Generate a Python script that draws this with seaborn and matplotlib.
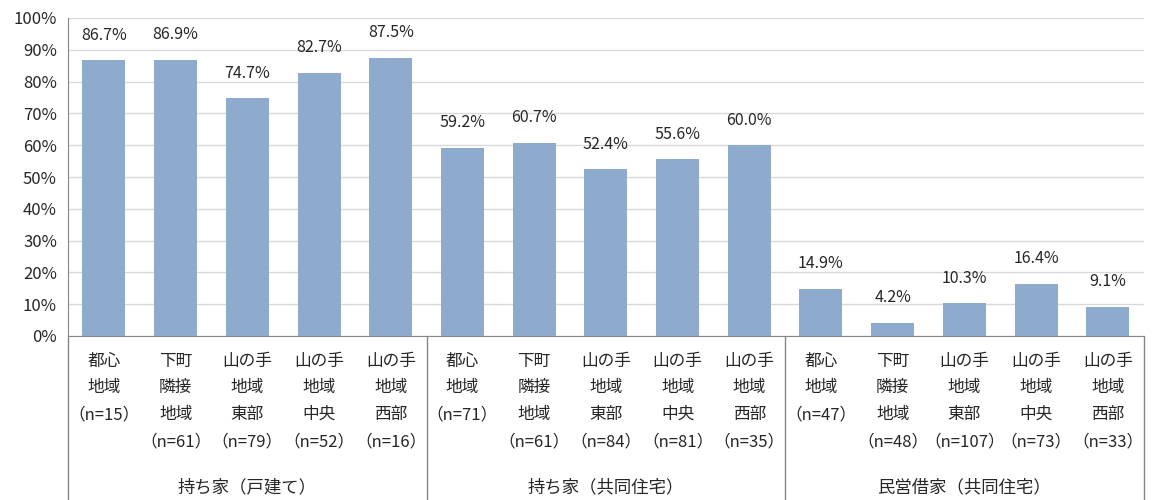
import numpy as np
import pandas as pd
import matplotlib
matplotlib.use("Agg")
import matplotlib.pyplot as plt
import matplotlib.transforms as mtransforms
import seaborn as sns

# DATA
groups = ["持ち家（戸建て）", "持ち家（共同住宅）", "民営借家（共同住宅）"]
areas = ["都心\n地域", "下町\n隣接\n地域", "山の手\n地域\n東部", "山の手\n地域\n中央", "山の手\n地域\n西部"]
n_owned_house = [15, 61, 79, 52, 16]
n_owned_apt = [71, 61, 84, 81, 35]
n_rented_apt = [47, 48, 107, 73, 33]
pct_owned_house = [86.7, 86.9, 74.7, 82.7, 87.5]
pct_owned_apt = [59.2, 60.7, 52.4, 55.6, 60.0]
pct_rented_apt = [14.9, 4.2, 10.3, 16.4, 9.1]

rows = []
for g, ns, ps in zip(groups, [n_owned_house, n_owned_apt, n_rented_apt],
                     [pct_owned_house, pct_owned_apt, pct_rented_apt]):
    for a, n, p in zip(areas, ns, ps):
        rows.append({"group": g, "label": f"{a}\n（n={n}）", "pct": p})
df = pd.DataFrame(rows)
df["key"] = range(len(df))

sns.set_style("white")
plt.rcParams["font.family"] = ["Noto Sans CJK JP", "DejaVu Sans"]

fig = plt.figure(figsize=(11.73, 5.0), dpi=100)
ax = fig.add_axes([0.058, 0.328, 0.917, 0.636])

sns.barplot(data=df, x="key", y="pct", color="#8EAACC", width=0.6,
            saturation=1, ax=ax, zorder=3, linewidth=0)

ax.set_ylim(0, 100)
ax.set_yticks(np.arange(0, 101, 10))
ax.set_yticklabels([f"{v}%" for v in range(0, 101, 10)], fontsize=12)
ax.yaxis.grid(True, color="#D9D9D9", linewidth=1, zorder=0)
ax.set_axisbelow(True)
ax.set_xlim(-0.5, len(df) - 0.5)

ax.set_xticks(df["key"])
ax.set_xticklabels(df["label"], fontsize=12, linespacing=1.75)
ax.tick_params(axis="both", length=0)
ax.tick_params(axis="x", pad=12)
ax.tick_params(axis="y", pad=8)
ax.set_xlabel("")
ax.set_ylabel("")

for side in ["top", "right"]:
    ax.spines[side].set_visible(False)
ax.spines["left"].set_color("#868686")
ax.spines["bottom"].set_color("#868686")

ax.bar_label(ax.containers[0], fmt="%.1f%%", padding=12, fontsize=11.5)

# group separators and group labels below the axis
trans = mtransforms.blended_transform_factory(ax.transData, ax.transAxes)
size = len(areas)
for i in range(len(groups) + 1):
    xb = i * size - 0.5
    ax.plot([xb, xb], [0, -0.52], transform=trans, color="#868686",
            linewidth=1, clip_on=False)
for i, g in enumerate(groups):
    ax.text(i * size + (size - 1) / 2, -0.475, g, transform=trans,
            ha="center", va="center", fontsize=12.5)

fig.savefig("out.png", dpi=100)
